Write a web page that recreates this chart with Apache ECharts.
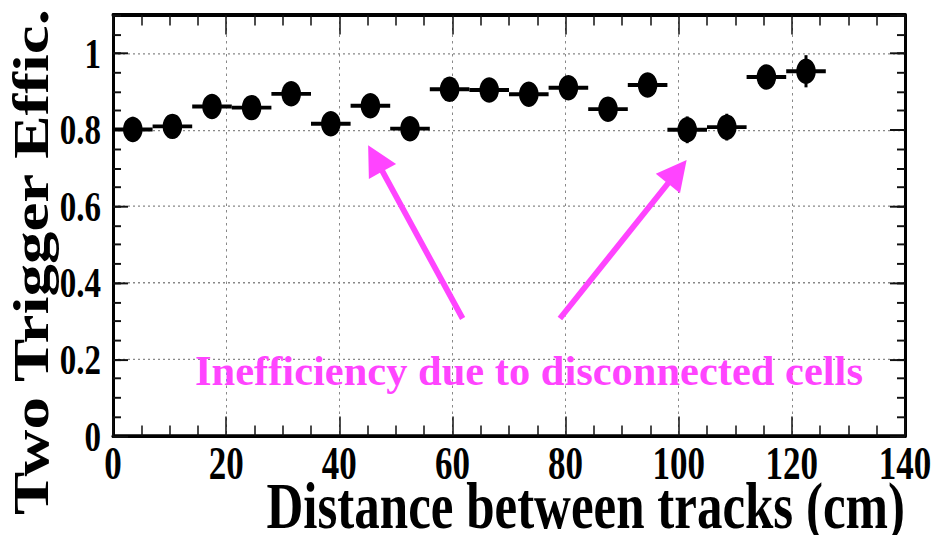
<!DOCTYPE html>
<html><head><meta charset="utf-8">
<script src="https://cdn.jsdelivr.net/npm/echarts@6/dist/echarts.min.js"></script>
<style>
html,body{margin:0;padding:0;background:#fff;overflow:hidden;width:936px;height:535px;}
#chart{position:absolute;left:0;top:0;width:936px;height:430px;transform:scaleY(1.3);transform-origin:0 0;}
</style></head><body><div id="chart"></div>
<script>
// vertical stretch of the reference picture
const S = 1.3;
const CHART_H = 430;

// ---- data ----
const distanceCm = [3.5, 10.5, 17.5, 24.5, 31.5, 38.5, 45.5, 52.5, 59.5, 66.5, 73.5, 80.5, 87.5, 94.5, 101.5, 108.5, 115.5, 122.5];
const efficiency = [0.801, 0.809, 0.861, 0.858, 0.894, 0.816, 0.863, 0.803, 0.906, 0.904, 0.893, 0.910, 0.854, 0.917, 0.800, 0.807, 0.938, 0.953];
const binHalfWidth = [3.5, 3.5, 3.5, 3.5, 3.5, 3.5, 3.5, 3.5, 3.5, 3.5, 3.5, 3.5, 3.5, 3.5, 3.5, 3.5, 3.5, 3.5];
const effError = [0.033, 0.030, 0.030, 0.030, 0.030, 0.030, 0.030, 0.030, 0.030, 0.030, 0.030, 0.030, 0.030, 0.030, 0.035, 0.035, 0.030, 0.042];

// annotation arrows (data coordinates): tail -> tip
const arrowTails = [[61.8, 0.307], [79.0, 0.307]];
const arrowTips  = [[45.1, 0.760], [101.4, 0.721]];

const annotationText = 'Inefficiency due to disconnected cells';
const xTitle = 'Distance between tracks (cm)';
const yTitle = 'Two Trigger Effic.';

const xMin = 0, xMax = 140, xStep = 20;
const yMin = 0, yMax = 1.1, yStep = 0.2, yMinorStep = 0.05;

// ---- chart ----
const chart = echarts.init(document.getElementById('chart'), null, {renderer: 'svg'});
const FONT = 'Liberation Serif';
const PINK = '#ff44ff';
const tickStyle = {color: '#111', width: 1.5};
const gridLine = {show: true, lineStyle: {color: '#888', width: 1, type: [2, 3]}};

function renderPoint(params, api) {
  const x = api.value(0), y = api.value(1), ex = api.value(2), ey = api.value(3);
  const c = api.coord([x, y]);
  const l = api.coord([x - ex, y]);
  const r = api.coord([x + ex, y]);
  const t = api.coord([x, y + ey]);
  const b = api.coord([x, y - ey]);
  return {
    type: 'group',
    children: [
      {type: 'line', shape: {x1: l[0], y1: l[1], x2: r[0], y2: r[1]}, style: {stroke: '#000', lineWidth: 3}},
      {type: 'line', shape: {x1: t[0], y1: t[1], x2: b[0], y2: b[1]}, style: {stroke: '#000', lineWidth: 3}},
      {type: 'circle', shape: {cx: c[0], cy: c[1], r: 9.8}, style: {fill: '#000'}}
    ]
  };
}

function renderArrow(params, api) {
  const a = api.coord([api.value(0), api.value(1)]);
  const b = api.coord([api.value(2), api.value(3)]);
  const A = [a[0], a[1] * S], B = [b[0], b[1] * S];
  const dx = B[0] - A[0], dy = B[1] - A[1], len = Math.hypot(dx, dy);
  const ux = dx / len, uy = dy / len, nx = -uy, ny = ux;
  const headLen = 30, headHalf = 15.5, shaftHalf = 2.9;
  const C = [B[0] - ux * headLen, B[1] - uy * headLen];
  const pts = [
    [A[0] + nx * shaftHalf, A[1] + ny * shaftHalf],
    [C[0] + nx * shaftHalf, C[1] + ny * shaftHalf],
    [C[0] + nx * headHalf, C[1] + ny * headHalf],
    B,
    [C[0] - nx * headHalf, C[1] - ny * headHalf],
    [C[0] - nx * shaftHalf, C[1] - ny * shaftHalf],
    [A[0] - nx * shaftHalf, A[1] - ny * shaftHalf]
  ].map(p => [p[0], p[1] / S]);
  return {type: 'polygon', shape: {points: pts}, style: {fill: PINK}};
}

const frameLine = {show: true, onZero: false, lineStyle: {color: '#000', width: 3}};

const option = {
  backgroundColor: '#fff',
  animation: false,
  grid: {left: 113, right: 31, top: 15 / S, bottom: CHART_H - 436 / S, containLabel: false, outerBoundsMode: 'none'},
  xAxis: [
    {
      type: 'value', position: 'bottom', min: xMin, max: xMax, interval: xStep,
      axisLine: frameLine,
      axisTick: {show: true, inside: true, length: 15, lineStyle: tickStyle},
      minorTick: {show: true, splitNumber: 4, length: 8, lineStyle: tickStyle},
      axisLabel: {show: true, margin: 4, color: '#000', fontFamily: FONT, fontWeight: 'bold', fontSize: 35},
      splitLine: gridLine
    },
    {
      type: 'value', position: 'top', min: xMin, max: xMax, interval: xStep,
      axisLine: frameLine,
      axisTick: {show: true, inside: true, length: 15, lineStyle: tickStyle},
      minorTick: {show: true, splitNumber: 4, length: 8, lineStyle: tickStyle},
      axisLabel: {show: false},
      splitLine: {show: false}
    }
  ],
  yAxis: [
    {
      type: 'value', position: 'left', min: yMin, max: yMax, interval: yStep,
      axisLine: frameLine,
      axisTick: {show: true, inside: true, length: 15, lineStyle: tickStyle},
      axisLabel: {show: true, showMaxLabel: false, margin: 12, padding: [0, 0, 6, 0], color: '#000', fontFamily: FONT, fontWeight: 'bold', fontSize: 33},
      splitLine: gridLine
    },
    {
      type: 'value', position: 'left', min: yMin, max: yMax, interval: yMinorStep,
      axisLine: {show: false, onZero: false},
      axisTick: {show: true, inside: true, length: 8, lineStyle: tickStyle},
      axisLabel: {show: false},
      splitLine: {show: false}
    },
    {
      type: 'value', position: 'right', min: yMin, max: yMax, interval: yStep,
      axisLine: frameLine,
      axisTick: {show: true, inside: true, length: 15, lineStyle: tickStyle},
      axisLabel: {show: false},
      splitLine: {show: false}
    },
    {
      type: 'value', position: 'right', min: yMin, max: yMax, interval: yMinorStep,
      axisLine: {show: false, onZero: false},
      axisTick: {show: true, inside: true, length: 8, lineStyle: tickStyle},
      axisLabel: {show: false},
      splitLine: {show: false}
    }
  ],
  series: [
    {
      name: 'Two Trigger Efficiency',
      type: 'custom',
      xAxisIndex: 0, yAxisIndex: 0,
      encode: {x: 0, y: 1},
      data: distanceCm.map((x, i) => [x, efficiency[i], binHalfWidth[i], effError[i]]),
      renderItem: renderPoint,
      z: 5
    },
    {
      name: 'annotation arrows',
      type: 'custom',
      xAxisIndex: 0, yAxisIndex: 0,
      encode: {x: [0, 2], y: [1, 3]},
      data: arrowTails.map((t, i) => [t[0], t[1], arrowTips[i][0], arrowTips[i][1]]),
      renderItem: renderArrow,
      z: 4
    }
  ],
  graphic: [
    {
      type: 'text', x: 905, y: 389, z: 10,
      style: {text: xTitle, fill: '#000', fontFamily: FONT, fontWeight: 'bold', fontSize: 51, align: 'right', verticalAlign: 'middle'}
    },
    {
      type: 'text', x: 31, y: 262 / S, rotation: Math.PI / 2, z: 10,
      style: {text: yTitle, fill: '#000', fontFamily: FONT, fontWeight: 'bold', fontSize: 50, align: 'center', verticalAlign: 'middle'}
    },
    {
      type: 'text', x: 195, y: 371 / S, scaleY: 1 / S, z: 10,
      style: {text: annotationText, fill: PINK, fontFamily: FONT, fontWeight: 'bold', fontSize: 42.5, align: 'left', verticalAlign: 'middle'}
    }
  ]
};
chart.setOption(option);
</script>
</body></html>
